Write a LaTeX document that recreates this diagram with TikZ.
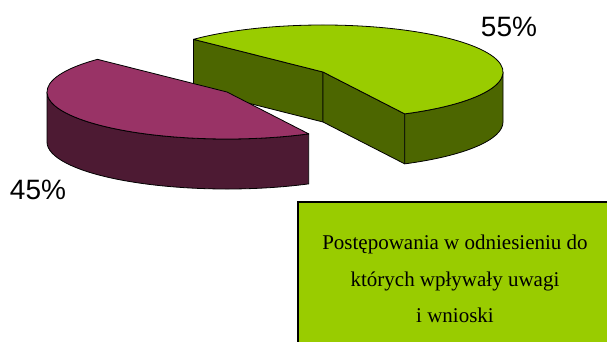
\documentclass[tikz,border=0pt]{standalone}
\usepackage{fontspec}
\setmainfont{Liberation Serif}
\newfontfamily\pctfont{Liberation Sans}
\definecolor{greentop}{HTML}{99CC00}
\definecolor{greenside}{HTML}{4C6600}
\definecolor{purpletop}{HTML}{993366}
\definecolor{purpleside}{HTML}{4D1A33}
\tikzset{
  face/.style={draw=black, line width=0.8pt, line join=round},
  pct/.style={font=\pctfont\fontsize{28}{30}\selectfont, inner sep=0pt},
}
\begin{document}
\begin{tikzpicture}[x=1pt, y=1pt]
\clip (0,0) rectangle (607,342);
\coordinate (cg) at (323,270);
\coordinate (cp) at (227,250);
\path (cg) ++(136:180pt and 47pt) coordinate (gl);
\path (cg) ++(-63:180pt and 47pt) coordinate (gf);
\path (cp) ++(136:180pt and 47pt) coordinate (pb);
\path (cp) ++(180:180pt and 47pt) coordinate (pl);
% green slice (55%)
\filldraw[face, fill=greenside] (gl) -- ++(0,-50) -- ([yshift=-50pt]cg) -- (cg) -- cycle;
\filldraw[face, fill=greenside] (cg) -- ([yshift=-50pt]cg) -- ([yshift=-50pt]gf) -- (gf) -- cycle;
\filldraw[face, fill=greenside] (gf) arc[start angle=-63, end angle=0, x radius=180pt, y radius=47pt]
  -- ++(0,-50) arc[start angle=0, end angle=-63, x radius=180pt, y radius=47pt] -- cycle;
\filldraw[face, fill=greentop] (cg) -- (gf) arc[start angle=-63, end angle=136, x radius=180pt, y radius=47pt] -- cycle;
% purple slice (45%)
\filldraw[face, fill=purpleside] (pl) arc[start angle=180, end angle=297, x radius=180pt, y radius=47pt]
  -- ++(0,-50) arc[start angle=297, end angle=180, x radius=180pt, y radius=47pt] -- cycle;
\filldraw[face, fill=purpletop] (cp) -- (pb) arc[start angle=136, end angle=297, x radius=180pt, y radius=47pt] -- cycle;
% labels
\node[pct] (p55) at (509,315) {55\%};
\node[pct] (p45) at (38,152) {45\%};
% legend
\filldraw[fill=greentop, draw=black, line width=1.6pt] (298,140) rectangle (615,-10);
\node[align=center, font=\fontsize{21}{36.5}\selectfont] (legend) at (455,63)
  {Postępowania w odniesieniu do\\których wpływały uwagi\\i wnioski};
\end{tikzpicture}
\end{document}
